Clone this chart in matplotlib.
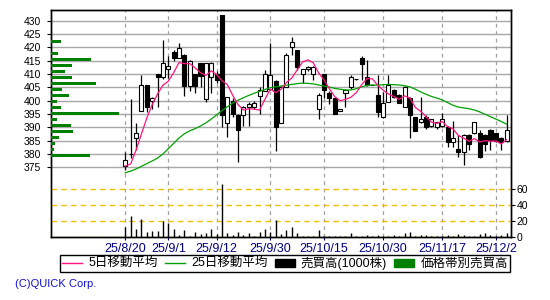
import matplotlib
matplotlib.use('Agg')
import matplotlib.pyplot as plt
from matplotlib.lines import Line2D
from matplotlib.patches import Patch

plt.rcParams['font.family'] = ['Liberation Sans', 'Noto Sans CJK JP', 'DejaVu Sans']

# trading-day index of each date label
date_pos = [0, 8, 17, 27, 37, 48, 59, 69]
date_labels = ['25/8/20', '25/9/1', '25/9/12', '25/9/30', '25/10/15', '25/10/30', '25/11/17', '25/12/2']

opens = [375.6, 380.0, 385.9, 396.1, 405.8, 399.9, 410.0, 408.8, 411.8, 418.4,
         415.9, 417.1, 405.6, 410.0, 414.0, 400.5, 409.0, 409.9, 432.1, 391.8,
         400.0, 394.8, 394.8, 397.8, 397.8, 401.9, 403.8, 404.2, 407.5, 391.8,
         405.3, 420.0, 419.0, 409.9, 411.8, 409.9, 396.8, 409.9, 403.0, 400.9,
         396.1, 402.8, 405.0, 408.0, 415.9, 409.0, 405.9, 402.1, 393.8, 399.6,
         404.0, 402.1, 397.8, 401.1, 393.8, 391.9, 394.0, 390.6, 390.0, 390.5,
         390.0, 384.6, 381.8, 380.9, 387.1, 387.8, 387.8, 387.1, 389.0, 387.8,
         386.1, 384.9]
highs = [380.9, 400.5, 391.5, 409.6, 405.8, 401.2, 410.0, 422.8, 416.8, 419.0,
         421.5, 417.5, 415.3, 410.0, 414.3, 414.3, 414.5, 411.0, 432.1, 401.5,
         401.0, 395.0, 398.0, 399.5, 400.0, 405.0, 411.5, 421.8, 407.8, 405.5,
         417.8, 424.0, 419.0, 411.8, 413.0, 413.0, 403.0, 410.0, 403.5, 401.0,
         397.0, 404.5, 409.6, 408.1, 416.8, 415.3, 405.9, 409.6, 403.4, 409.6,
         404.5, 402.5, 405.5, 401.5, 394.0, 401.5, 394.5, 393.3, 392.0, 395.5,
         390.5, 392.5, 387.1, 387.5, 387.5, 392.0, 389.0, 387.5, 389.5, 387.8,
         386.5, 394.6]
lows = [374.0, 378.4, 381.5, 396.0, 395.9, 397.0, 397.8, 408.0, 408.4, 415.0,
        415.9, 401.9, 403.5, 403.0, 405.3, 399.6, 403.0, 406.8, 390.3, 386.5,
        394.0, 377.0, 390.5, 390.5, 397.0, 395.0, 403.5, 404.0, 381.0, 391.5,
        405.0, 417.0, 411.5, 406.5, 411.0, 407.8, 393.0, 400.9, 398.8, 394.9,
        396.0, 397.8, 404.5, 407.9, 407.8, 405.5, 405.8, 393.8, 393.5, 399.6,
        401.0, 399.0, 397.5, 385.9, 388.5, 391.5, 389.5, 390.3, 389.5, 390.0,
        382.8, 382.8, 379.0, 375.9, 381.5, 387.5, 378.5, 381.0, 381.5, 384.5,
        381.5, 384.5]
closes = [377.8, 380.2, 387.8, 405.8, 397.8, 400.9, 408.8, 414.0, 413.0, 415.9,
          419.9, 405.6, 415.0, 405.5, 409.3, 414.0, 414.0, 407.8, 394.8, 401.5,
          394.9, 389.0, 397.8, 398.9, 399.0, 404.0, 409.9, 409.8, 390.3, 405.3,
          417.1, 421.9, 412.8, 411.8, 412.8, 412.8, 402.1, 404.0, 400.9, 394.9,
          396.9, 404.0, 408.8, 408.1, 413.8, 405.9, 405.8, 395.9, 399.0, 405.9,
          401.5, 399.0, 405.0, 394.6, 388.8, 393.0, 390.0, 393.0, 391.9, 393.1,
          384.6, 385.9, 380.9, 387.1, 383.8, 391.9, 378.8, 383.8, 385.3, 385.0,
          384.6, 389.0]

ma5 = [375.5, 376.3, 381.5, 387.5, 393.5, 398.5, 402.5, 405.8, 407.3, 410.5,
       414.3, 413.9, 413.9, 412.3, 410.5, 409.5, 411.2, 409.8, 407.5, 406.0,
       402.0, 398.5, 396.5, 397.0, 396.8, 396.5, 400.5, 404.4, 403.0, 404.3,
       406.8, 408.5, 411.5, 414.5, 415.3, 414.2, 410.4, 407.8, 404.5, 401.5,
       400.0, 400.5, 401.3, 403.0, 406.0, 408.3, 408.2, 405.8, 404.0, 402.5,
       401.6, 400.5, 401.8, 401.0, 397.5, 396.0, 394.0, 392.0, 391.5, 392.2,
       390.3, 389.5, 387.0, 386.0, 384.8, 385.8, 384.5, 385.0, 384.8, 384.9,
       383.8, 385.4]
ma25 = [373.0, 373.6, 374.4, 375.4, 376.4, 377.4, 378.5, 380.0, 382.0, 384.0,
        386.0, 387.6, 388.7, 389.5, 390.5, 391.7, 393.1, 394.7, 396.3, 397.7,
        399.1, 400.2, 401.1, 402.0, 402.8, 403.5, 404.2, 404.9, 405.2, 405.5,
        405.8, 406.1, 406.4, 406.6, 406.5, 406.3, 405.9, 405.5, 405.1, 404.6,
        404.3, 404.0, 404.0, 404.5, 405.2, 405.7, 405.9, 405.8, 406.0, 406.1,
        406.0, 405.9, 405.6, 405.2, 404.3, 403.3, 402.4, 401.6, 401.0, 400.3,
        399.3, 398.3, 397.6, 397.3, 397.0, 396.5, 395.8, 394.9, 394.0, 393.1,
        392.2, 391.2]

volume = [12.2, 26.6, 10.5, 22.7, 5.7, 6.9, 6.9, 19.3, 17.1, 10.1,
          2.6, 8.1, 0.8, 5.7, 3.3, 4.5, 10.5, 3.6, 66.0, 4.5,
          2.0, 5.7, 2.0, 4.5, 0.8, 5.7, 10.5, 5.7, 20.5, 3.3,
          8.3, 12.0, 4.5, 0.8, 0.8, 0.8, 8.3, 0.8, 0.8, 0.8,
          0.8, 0.8, 4.5, 0.8, 0.8, 2.0, 0.8, 2.0, 0.8, 0.8,
          2.0, 0.8, 4.5, 5.7, 0.8, 2.0, 2.0, 0.8, 0.8, 0.8,
          2.0, 0.8, 3.3, 2.0, 0.8, 0.8, 3.3, 4.5, 2.0, 0.8,
          2.0, 4.5]

# volume by price band (left histogram)
band_price = [379.5, 381.75, 384.0, 386.25, 388.5, 390.75, 393.0, 395.25, 397.5, 399.75,
              402.0, 404.25, 406.5, 408.75, 411.0, 413.25, 415.5, 417.75, 420.0, 422.25]
band_volume = [39, 3, 4, 8, 22, 20, 6, 68, 10, 6,
               18, 11, 45, 21, 14, 21, 40, 7, 0, 10]

price_ticks = [375, 380, 385, 390, 395, 400, 405, 410, 415, 420, 425, 430]
vol_ticks = [0, 20, 40, 60]

PINK = '#ff1480'
GREEN_MA = '#00a000'
GREEN_BAR = '#008000'
NAVY = '#000080'

fig = plt.figure(figsize=(5.5, 3.0), dpi=100)
ax = fig.add_axes([51 / 550, 63 / 300, 460 / 550, 227 / 300])
ax.set_xlim(-13.84, 71.82)
ax.set_ylim(348.9, 434.0)

for p in price_ticks:
    ax.axhline(p, color='#a8a8a8', lw=1.0, zorder=0)
for d in date_pos:
    ax.axvline(d, color='#a0a0a0', lw=0.9, ls=(0, (3, 3)), zorder=0)

x = list(range(len(opens)))
ax.vlines(x, lows, highs, color='black', lw=0.9, zorder=2)
bottoms = [min(o, c) for o, c in zip(opens, closes)]
heights = [max(abs(c - o), 0.05) for o, c in zip(opens, closes)]
faces = ['white' if c >= o else 'black' for o, c in zip(opens, closes)]
ax.bar(x, heights, bottom=bottoms, width=0.75, color=faces,
       edgecolor='black', linewidth=0.8, zorder=3)

ax.plot(x, ma25, color=GREEN_MA, lw=0.9, zorder=4)
ax.plot(x, ma5, color=PINK, lw=0.9, zorder=5)

ax.set_yticks(price_ticks)
ax.set_yticklabels([str(p) for p in price_ticks])
ax.tick_params(axis='y', direction='out', length=3, width=0.8, pad=4, labelsize=7.5)
ax.set_xticks(date_pos)
ax.set_xticklabels(date_labels)
ax.tick_params(axis='x', direction='out', length=2.2, width=0.8, pad=2,
               labelsize=9, colors=NAVY)
for s in ax.spines.values():
    s.set_linewidth(1.0)
    s.set_color('black')

# volume on the right axis
axv = ax.twinx()
axv.set_ylim(0, 281)
for v in vol_ticks:
    axv.axhline(v, color='#f0c000', lw=1.0, ls=(0, (4, 3)), zorder=1)
axv.vlines(x, 0, volume, color='black', lw=1.0, zorder=2)
axv.set_yticks(vol_ticks)
axv.set_yticklabels([str(v) for v in vol_ticks])
axv.tick_params(axis='y', direction='out', length=3, width=0.8, pad=1, labelsize=7.5)
for s in axv.spines.values():
    s.set_linewidth(1.0)

# price-band histogram from the left axis
axh = ax.twiny()
axh.set_xlim(0, 460)
axh.barh(band_price, band_volume, height=1.2, left=0, color=GREEN_BAR, zorder=3)
axh.set_xticks([])
for s in axh.spines.values():
    s.set_visible(False)

handles = [Line2D([], [], color=PINK, lw=1.0),
           Line2D([], [], color=GREEN_MA, lw=1.0),
           Patch(facecolor='black', edgecolor='black'),
           Patch(facecolor=GREEN_BAR, edgecolor=GREEN_BAR)]
labels = ['5日移動平均', '25日移動平均', '売買高(1000株)', '価格帯別売買高']
leg = fig.legend(handles, labels, ncol=4, loc='lower left', mode='expand',
                 bbox_to_anchor=(60 / 550, 28 / 300, 450 / 550, 15 / 300),
                 borderaxespad=0, borderpad=0.15, handlelength=1.6, handleheight=0.6,
                 handletextpad=0.5, columnspacing=1.0, fancybox=False,
                 edgecolor='black', framealpha=1, prop={'size': 9})
leg.get_frame().set_linewidth(1.0)

fig.text(15 / 550, 1 - 284 / 300, '(C)QUICK Corp.', color='#1010d0', fontsize=8, va='center')

fig.savefig('out.png', dpi=100)
